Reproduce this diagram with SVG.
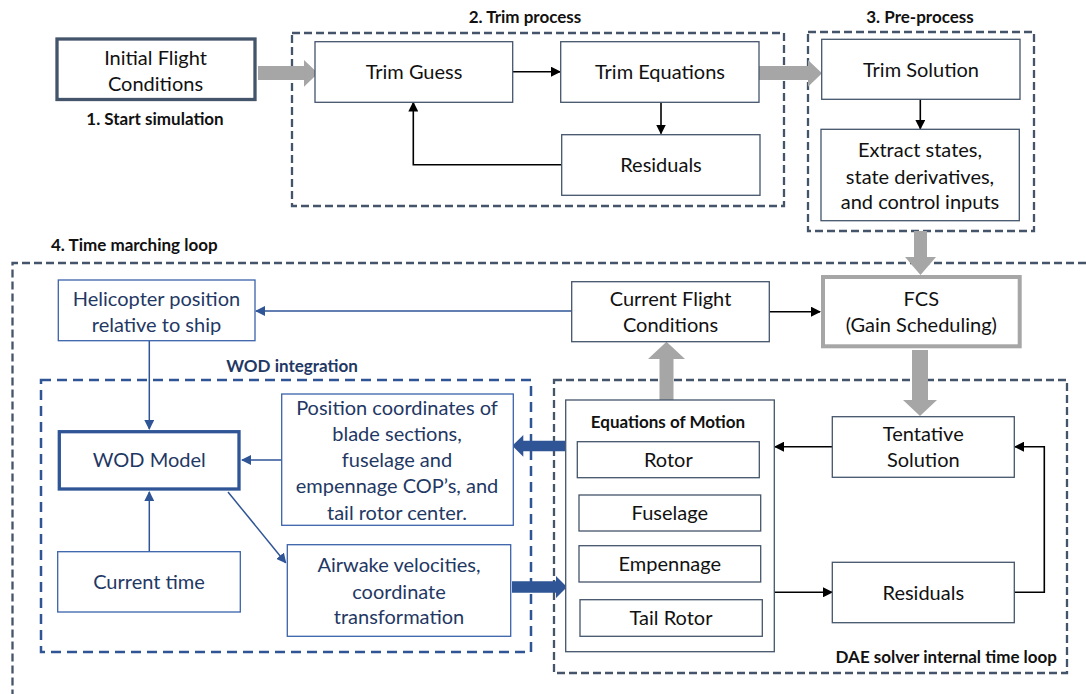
<svg xmlns="http://www.w3.org/2000/svg" width="1086" height="694" viewBox="0 0 1086 694">
<style>
text{font-family:Lato,"Noto Sans","Liberation Sans",sans-serif;font-size:20px;fill:#111;text-anchor:middle}
.b{font-weight:bold;font-size:17px}
.bl{fill:#1F3864}
.box{fill:#fff;stroke:#44546A;stroke-width:1.3}
.bbox{fill:#fff;stroke:#3A62AA;stroke-width:1.3}
.dash{fill:none;stroke:#44546A;stroke-width:2.3;stroke-dasharray:8 4}
.bdash{fill:none;stroke:#2F5597;stroke-width:2.5;stroke-dasharray:10 6}
.k{fill:none;stroke:#000;stroke-width:1.6}
.bc{fill:none;stroke:#2F5597;stroke-width:1.5}
.gray{fill:#A6A6A6}
.blu{fill:#2F5597}
</style>
<defs>
<marker id="ak" markerWidth="10" markerHeight="10" refX="9" refY="5" orient="auto" markerUnits="userSpaceOnUse"><path d="M0,0 L10,5 L0,10 z" fill="#000"/></marker>
<marker id="ab" markerWidth="10" markerHeight="10" refX="9" refY="5" orient="auto" markerUnits="userSpaceOnUse"><path d="M0,0 L10,5 L0,10 z" fill="#2F5597"/></marker>
</defs>

<g id="groups">
<rect class="dash" x="292" y="33" width="492" height="173"/>
<text class="b" x="525" y="23">2. Trim process</text>
<rect class="dash" x="808" y="32" width="226" height="199"/>
<text class="b" x="920" y="23">3. Pre-process</text>
<path class="dash" d="M1086,263 H12.5 V694"/>
<text class="b" x="51" y="251" style="text-anchor:start">4. Time marching loop</text>
<rect class="bdash" x="41" y="380" width="490" height="272"/>
<text class="b bl" x="292" y="372">WOD integration</text>
<rect class="dash" x="554" y="380" width="513" height="293"/>
<text class="b" x="1057" y="663" style="text-anchor:end">DAE solver internal time loop</text>
</g>

<g id="connectors">
<path class="gray" d="M258,66 H304 V60 L318,73.3 L304,86.7 V80 H258 z"/>
<path class="gray" d="M759,66 H808 V60 L822,73.3 L808,86.7 V80 H759 z"/>
<path class="gray" d="M914,231 V257 H905 L920.5,275 L936,257 H927 V231 z"/>
<path class="gray" d="M912,350 V400 H903 L920,416 L937,400 H928 V350 z"/>
<path class="gray" d="M659.5,400 V359 H648 L666.5,341.7 L685,359 H673.5 V400 z"/>
<path class="blu" d="M565,440.7 H523.3 V435 L512.3,445.7 L523.3,456.7 V451.3 H565 z"/>
<path class="blu" d="M512,581.3 H556 V576 L567,587 L556,598 V592.7 H512 z"/>
<line class="k" x1="513" y1="71.7" x2="560" y2="71.7" marker-end="url(#ak)"/>
<line class="k" x1="661" y1="102.3" x2="661" y2="133.5" marker-end="url(#ak)"/>
<path class="k" d="M561.7,164.7 H413.3 V102.5" marker-end="url(#ak)"/>
<line class="k" x1="920.3" y1="99.3" x2="920.3" y2="128.8" marker-end="url(#ak)"/>
<line class="k" x1="769.3" y1="311.7" x2="820" y2="311.7" marker-end="url(#ak)"/>
<line class="k" x1="832.3" y1="446.7" x2="775" y2="446.7" marker-end="url(#ak)"/>
<line class="k" x1="770" y1="592.3" x2="832" y2="592.3" marker-end="url(#ak)"/>
<path class="k" d="M1014.3,592.3 H1044.3 V446.7 H1015" marker-end="url(#ak)"/>
<line class="bc" x1="571.7" y1="311" x2="256" y2="311" marker-end="url(#ab)"/>
<line class="bc" x1="149.3" y1="341" x2="149.3" y2="429" marker-end="url(#ab)"/>
<line class="bc" x1="281.7" y1="460" x2="242" y2="460" marker-end="url(#ab)"/>
<line class="bc" x1="149.3" y1="551.7" x2="149.3" y2="492" marker-end="url(#ab)"/>
<line class="bc" x1="228" y1="492" x2="285.7" y2="562.7" marker-end="url(#ab)"/>
</g>

<g id="initial"><rect x="57" y="39" width="198" height="60.5" fill="#fff" stroke="#44546A" stroke-width="3.3"/>
<text x="155.5" y="65">Initial Flight</text><text x="155.5" y="91">Conditions</text>
<text class="b" x="155" y="125">1. Start simulation</text></g>
<g id="trimguess"><rect class="box" x="315" y="41.7" width="197.7" height="60.6"/><text x="414" y="79">Trim Guess</text></g>
<g id="trimeq"><rect class="box" x="560.7" y="41.7" width="198.3" height="60.6"/><text x="660" y="79">Trim Equations</text></g>
<g id="residuals1"><rect class="box" x="561.7" y="134.7" width="198.3" height="60.6"/><text x="661" y="172">Residuals</text></g>
<g id="trimsol"><rect class="box" x="821.7" y="39.3" width="198.3" height="60"/><text x="921" y="77">Trim Solution</text></g>
<g id="extract"><rect class="box" x="821" y="129.3" width="198.3" height="91.4"/>
<text x="920" y="157">Extract states,</text><text x="920" y="183.7">state derivatives,</text><text x="920" y="209.3">and control inputs</text></g>

<g id="helipos"><rect class="bbox" x="58.3" y="280" width="196.7" height="60.7"/>
<text class="bl" x="156.5" y="305.5">Helicopter position</text><text class="bl" x="156.5" y="331.5">relative to ship</text></g>
<g id="cfc"><rect class="box" x="571.7" y="281.7" width="197.6" height="60"/>
<text x="670.5" y="306.3">Current Flight</text><text x="670.5" y="332">Conditions</text></g>
<g id="fcs"><rect x="823" y="277" width="196.7" height="69.3" fill="#fff" stroke="#A6A6A6" stroke-width="4"/>
<text x="921.3" y="306.3">FCS</text><text x="921.3" y="332">(Gain Scheduling)</text></g>
<g id="wodmodel"><rect x="59.3" y="431.7" width="179.7" height="57.3" fill="#fff" stroke="#2F5597" stroke-width="3.3"/>
<text class="bl" x="149.3" y="467">WOD Model</text></g>
<g id="curtime"><rect class="bbox" x="57.7" y="551.7" width="182.6" height="60.3"/><text class="bl" x="149" y="589">Current time</text></g>
<g id="poscoord"><rect class="bbox" x="281.7" y="394" width="231.6" height="131.3"/>
<text class="bl" x="397" y="415">Position coordinates of</text>
<text class="bl" x="397" y="441">blade sections,</text>
<text class="bl" x="397" y="467">fuselage and</text>
<text class="bl" x="397" y="493">empennage COP’s, and</text>
<text class="bl" x="397" y="520">tail rotor center.</text></g>
<g id="airwake"><rect class="bbox" x="287.3" y="544.7" width="223.4" height="91.6"/>
<text class="bl" x="399" y="572">Airwake velocities,</text>
<text class="bl" x="399" y="598.7">coordinate</text>
<text class="bl" x="399" y="624">transformation</text></g>
<g id="eom"><rect class="box" x="565.7" y="400" width="208.6" height="251.7"/>
<text class="b" x="668" y="427.5">Equations of Motion</text>
<rect class="box" x="577.3" y="441.7" width="182" height="36"/><text x="668.3" y="467">Rotor</text>
<rect class="box" x="579" y="495" width="181.7" height="36"/><text x="669.8" y="520">Fuselage</text>
<rect class="box" x="579" y="545.7" width="181.7" height="36.3"/><text x="669.8" y="571">Empennage</text>
<rect class="box" x="580" y="599.7" width="182.3" height="36.6"/><text x="671" y="625">Tail Rotor</text></g>
<g id="tentative"><rect class="box" x="832.3" y="416.7" width="182" height="60.6"/>
<text x="923.3" y="441">Tentative</text><text x="923.3" y="467">Solution</text></g>
<g id="residuals2"><rect class="box" x="832.3" y="562.3" width="182" height="60.4"/><text x="923.3" y="599.5">Residuals</text></g>
</svg>
